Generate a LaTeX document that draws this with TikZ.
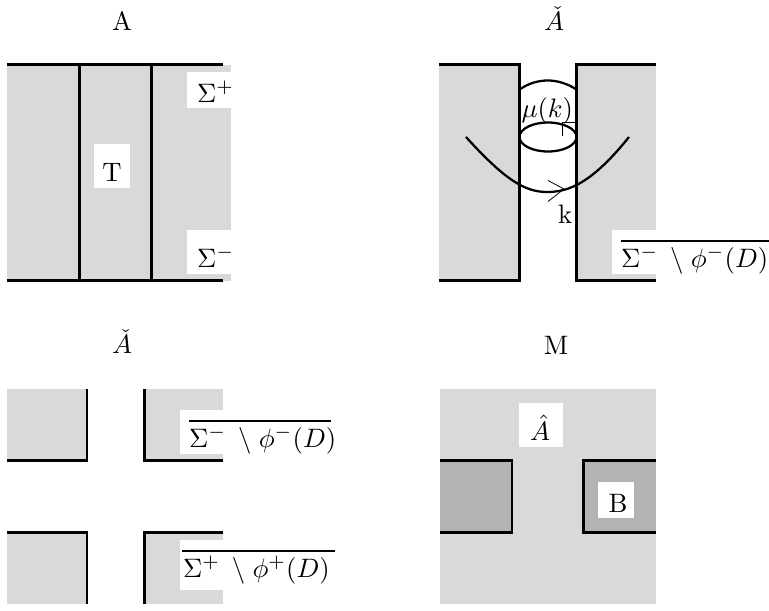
\documentclass[tikz,border=0pt]{standalone}
\begin{document}
\begin{tikzpicture}[x=0.75pt,y=-0.75pt,
  lbl/.style={inner sep=0pt,outer sep=0pt,scale=2.0},
  lc/.style={lbl,anchor=base},
  lw/.style={lbl,anchor=base west},
  edge/.style={line width=1.7pt,line cap=butt,line join=miter},
  thin edge/.style={line width=0.6pt},
  bar/.style={line width=2.2pt}]
\definecolor{lightg}{HTML}{D9D9D9}
\definecolor{darkg}{HTML}{B3B3B3}
\newcommand{\smn}{\ \mkern2mu{\setminus}\mkern5mu}
\useasboundingbox (0,0) rectangle (769,611);
\fill[white] (0,0) rectangle (769,611);
% Panel A
\fill[lightg] (7,65) rectangle (231,281);
\fill[white] (187,72) rectangle (231,108);
\fill[white] (187,230) rectangle (231,274);
\fill[white] (94,144) rectangle (130,188);
\draw[edge] (7,64.5) -- (223,64.5);
\draw[edge] (7,280.5) -- (223,280.5);
\draw[edge] (79.5,64.5) -- (79.5,280.5);
\draw[edge] (151.5,64.5) -- (151.5,280.5);
\node[lc] (tA) at (122,30) {A};
\node[lc] (tT) at (112,181) {T};
\node[lw] (sp) at (197,102) {$\Sigma^+$};
\node[lw] (sm) at (197,267) {$\Sigma^-$};
% Panel top right
\fill[lightg] (439,65) rectangle (519,281);
\fill[lightg] (576,65) rectangle (656,281);
\fill[white] (612,230) rectangle (656,274);
\draw[edge] (439,64.5) -- (519.5,64.5) -- (519.5,280.5) -- (439,280.5);
\draw[edge] (656,64.5) -- (576.5,64.5) -- (576.5,280.5) -- (656,280.5);
\draw[edge] (519.5,89.5) .. controls (537,77.5) and (558,77.5) .. (576.5,89.5);
\draw[edge] (548,137) ellipse (28.5 and 14.5);
\draw[edge] (466,137) .. controls (505,180) and (525,192) .. (547,192) .. controls (569,192) and (592,183) .. (629,137);
\draw[thin edge] (548,180.5) -- (564,189) -- (548,201.5);
\draw[thin edge] (576,122) -- (562,122) -- (562,136);
\node[lc] (tAc) at (554,30) {$\check{A}$};
\node[lw] (mu) at (521.5,117) {$\mu(k)$};
\node[lw] (k) at (558,223) {k};
\node[lw] (s1) at (621,267) {$\Sigma^-\smn\phi^-(D)$};
\draw[bar] (621,241) -- (769,241);
% Panel lower left
\fill[lightg] (7,389) rectangle (87,461);
\fill[lightg] (144,389) rectangle (223,461);
\fill[lightg] (7,532) rectangle (87,604);
\fill[lightg] (144,532) rectangle (223,604);
\fill[white] (180,410) rectangle (223,454);
\fill[white] (180,540) rectangle (223,590);
\draw[edge] (87,389) -- (87,460.5) -- (7,460.5);
\draw[edge] (144.5,389) -- (144.5,460.5) -- (223,460.5);
\draw[edge] (7,532.5) -- (87,532.5) -- (87,604);
\draw[edge] (223,532.5) -- (144.5,532.5) -- (144.5,604);
\node[lc] (tAd) at (122,353) {$\check{A}$};
\node[lw] (s2) at (189,447) {$\Sigma^-\smn\phi^-(D)$};
\draw[bar] (189,421) -- (331,421);
\node[lw] (s3) at (183,577) {$\Sigma^+\smn\phi^+(D)$};
\draw[bar] (182,551) -- (335,551);
% Panel M
\fill[lightg] (440,389) rectangle (656,604);
\fill[darkg] (440,461) rectangle (512,533);
\fill[darkg] (583,461) rectangle (656,533);
\fill[white] (519,403) rectangle (563,447);
\fill[white] (598,482) rectangle (634,518);
\draw[edge] (440,460.5) -- (512,460.5) -- (512,532.5) -- (440,532.5);
\draw[edge] (656,460.5) -- (583.5,460.5) -- (583.5,532.5) -- (656,532.5);
\node[lc] (tM) at (556,354) {M};
\node[lc] (tAh) at (540,440) {$\hat{A}$};
\node[lc] (tB) at (618,512) {B};
\end{tikzpicture}
\end{document}
